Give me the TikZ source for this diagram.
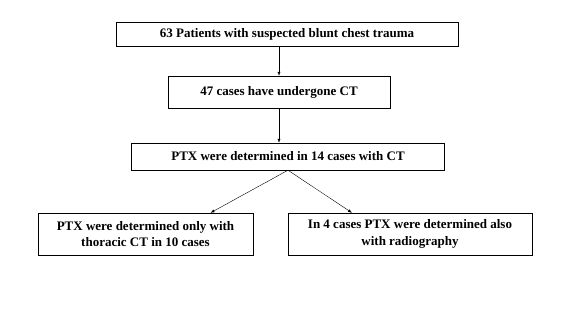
\documentclass[tikz,border=0pt]{standalone}
\usepackage{fontspec}
\setmainfont{Liberation Serif}
\usetikzlibrary{arrows.meta, positioning}
\tikzstyle{block} = [draw, rectangle, thin, align=center, font=\bfseries\fontsize{13}{16.5}\selectfont, inner sep=0pt]
\tikzstyle{link} = [-{Latex[length=4pt,width=3pt]}, thin]

\begin{document}
\begin{tikzpicture}[x=1pt, y=-1pt]

\useasboundingbox (0,0) rectangle (581,308);

\node [block, minimum width=342pt, minimum height=24pt] (patients) at (287,34) {63 Patients with suspected blunt chest trauma};
\node [block, minimum width=222pt, minimum height=32pt] (ct) at (279,92) {47 cases have undergone CT};
\node [block, minimum width=313pt, minimum height=27pt] (ptx) at (288,156.5) {PTX were determined in 14 cases with CT};
\node [block, minimum width=215pt, minimum height=42pt] (only) at (145.5,234) {PTX were determined only with\\thoracic CT in 10 cases};
\node [block, minimum width=244pt, minimum height=42pt] (also) at (410,234) {In 4 cases PTX were determined also\\with radiography};

\draw [link] (patients.south -| ct.north) -- (ct.north);
\draw [link] (ct.south) -- (ct.south |- ptx.north);
\draw [link] (ptx.south) -- ([xshift=65pt]only.north);
\draw [link] (ptx.south) -- ([xshift=-58pt]also.north);

\end{tikzpicture}
\end{document}
